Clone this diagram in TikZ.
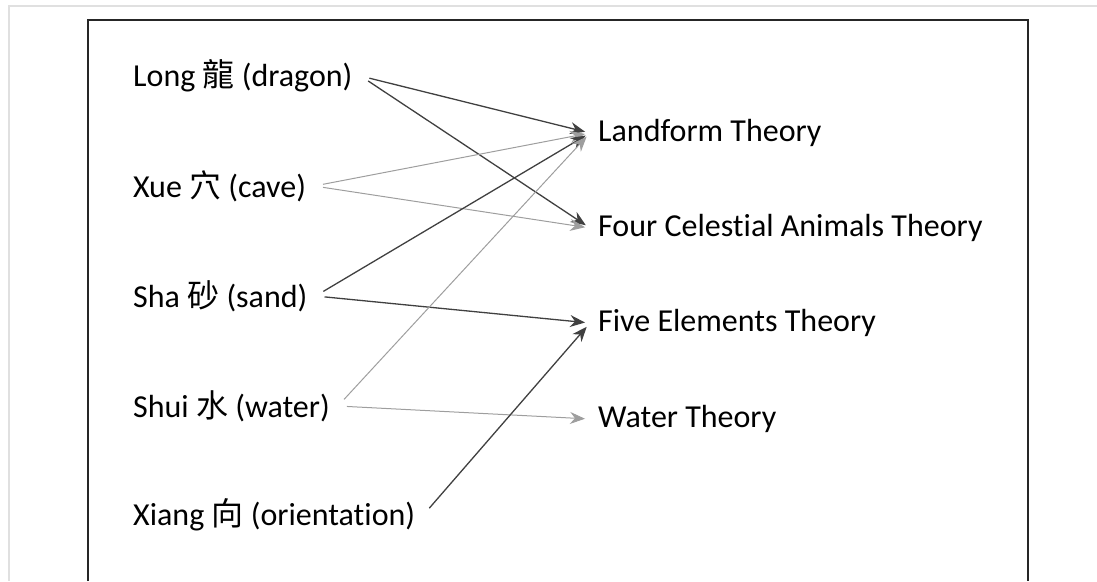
\documentclass[tikz,border=0pt]{standalone}
\usepackage{fontspec}
\setmainfont{Carlito}[Ligatures=NoCommon]
\newfontfamily\cjk{Noto Sans CJK TC}
\usepackage{tikz}
\usetikzlibrary{arrows.meta, positioning}

\begin{document}
\begin{tikzpicture}[x=1pt,y=-1pt]
 \tikzstyle{concept}=[anchor=west,inner sep=8pt,font=\fontsize{32}{38}\selectfont]
 \tikzstyle{theory}=[anchor=west,inner sep=8pt,font=\fontsize{32}{38}\selectfont]
 \tikzstyle{dark}=[draw=black!75,line width=1.3pt,
   -{Stealth[length=15pt,width=12pt,inset=5pt]},shorten >=5pt,shorten <=9pt]
 \tikzstyle{light}=[draw=black!38,line width=1pt,
   -{Stealth[length=15pt,width=12pt,inset=5pt]},shorten >=5pt,shorten <=9pt]
 \useasboundingbox (0,0) rectangle (1097,581);
 % frames
 \draw[black!12,line width=2pt] (9,581) -- (9,6) -- (1097,6);
 \draw[black!85,line width=1.5pt] (88,581) -- (88,20) -- (1028,20) -- (1028,581);
 % left column
 \node (long) [concept] at (125,76) {Long {\cjk 龍} (dragon)};
 \node (xue) [concept] at (125,186) {Xue {\cjk 穴} (cave)};
 \node (sha) [concept] at (125,296) {Sha {\cjk 砂} (sand)};
 \node (shui) [concept] at (125,406) {Shui {\cjk 水} (water)};
 \node (xiang) [concept] at (125,515) {Xiang {\cjk 向} (orientation)};
 % right column
 \node (landform) [theory] at (590,133) {Landform Theory};
 \node (animals) [theory] at (590,228) {Four Celestial Animals Theory};
 \node (elements) [theory] at (590,323) {Five Elements Theory};
 \node (water) [theory] at (590,419) {Water Theory};
 % links
 \draw[dark] (long.east) -- (landform.west);
 \draw[dark] (long.east) -- (animals.west);
 \draw[light] (xue.east) -- (landform.west);
 \draw[light] (xue.east) -- (animals.west);
 \draw[dark] (sha.east) -- (landform.west);
 \draw[dark] (sha.east) -- (elements.west);
 \draw[light] (shui.east) -- (landform.west);
 \draw[light] (shui.east) -- (water.west);
 \draw[dark] (xiang.east) -- (elements.west);
\end{tikzpicture}
\end{document}
